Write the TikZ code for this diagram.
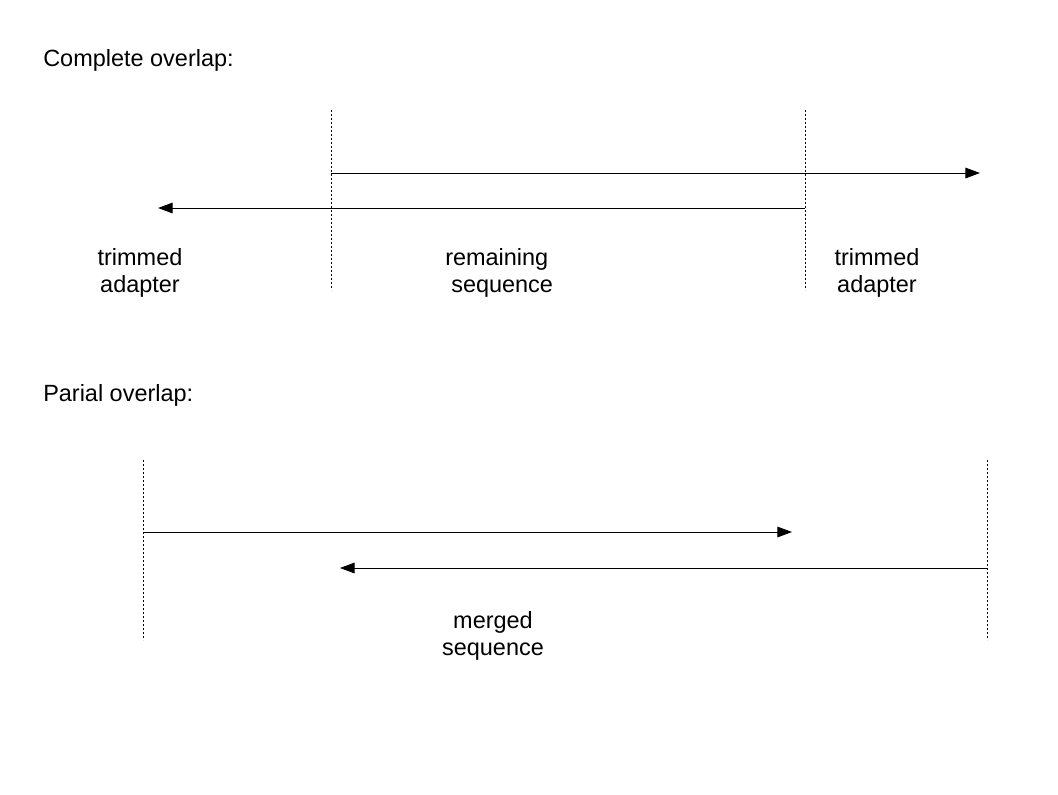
\documentclass[tikz,border=0pt]{standalone}
\usepackage{fontspec}
\setmainfont{Liberation Sans}
\usetikzlibrary{arrows.meta}
\begin{document}
\begin{tikzpicture}[x=0.75pt,y=-0.75pt,
  lbl/.style={inner sep=0pt,font=\fontsize{17.6}{20}\selectfont},
  mlbl/.style={lbl,align=center,anchor=base},
  guide/.style={line width=0.75pt,dash pattern=on 1.8pt off 1.2pt},
  seq/.style={line width=0.75pt,-{Triangle[length=11pt,width=8pt]}}]
\useasboundingbox (0,0) rectangle (1058,794);
% titles
\node[lbl,anchor=base west] (t1) at (43,66) {Complete overlap:};
\node[lbl,anchor=base west] (t2) at (43,401) {Parial overlap:};
% complete overlap
\coordinate (ga1) at (331,110); \coordinate (ga2) at (331,290);
\coordinate (gb1) at (805,110); \coordinate (gb2) at (805,290);
\draw[guide] (ga1) -- (ga2);
\draw[guide] (gb1) -- (gb2);
\coordinate (f1) at (331,173); \coordinate (f2) at (980,173);
\coordinate (r1) at (805,208); \coordinate (r2) at (158,208);
\draw[seq] (f1) -- (f2);
\draw[seq] (r1) -- (r2);
\node[mlbl] (l1) at (140,292) {trimmed\\adapter};
\node[lbl,align=left,anchor=base west] (l2) at (445,292) {remaining\\\hspace*{4.5pt}sequence};
\node[mlbl] (l3) at (877,292) {trimmed\\adapter};
% partial overlap
\coordinate (gc1) at (143,460); \coordinate (gc2) at (143,640);
\coordinate (gd1) at (987,460); \coordinate (gd2) at (987,640);
\draw[guide] (gc1) -- (gc2);
\draw[guide] (gd1) -- (gd2);
\coordinate (p1) at (143,532); \coordinate (p2) at (792,532);
\coordinate (q1) at (987,568); \coordinate (q2) at (340,568);
\draw[seq] (p1) -- (p2);
\draw[seq] (q1) -- (q2);
\node[mlbl] (l4) at (493,655) {merged\\sequence};
\end{tikzpicture}
\end{document}
